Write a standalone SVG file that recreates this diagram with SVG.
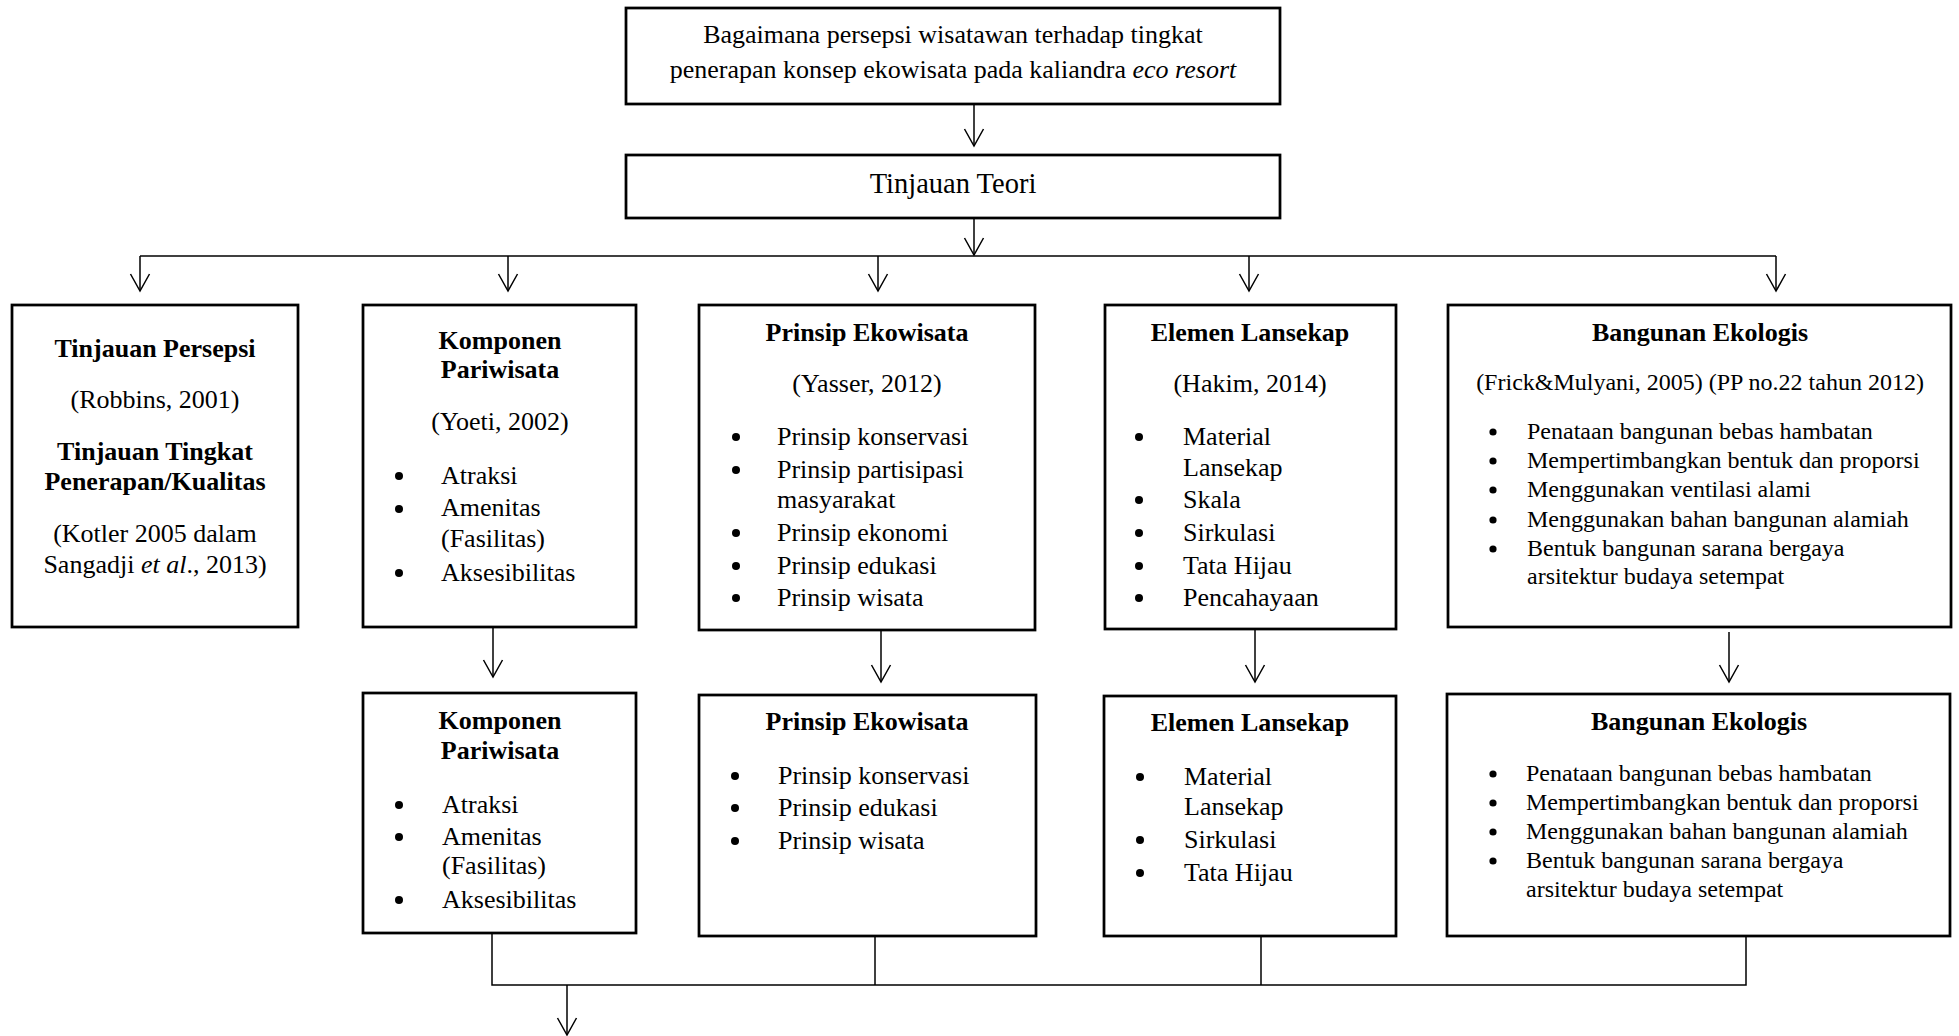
<svg xmlns="http://www.w3.org/2000/svg" width="1959" height="1036" viewBox="0 0 1959 1036">
<style>
.box{fill:#fff;stroke:#000;stroke-width:2.75}
text{font-family:"Liberation Serif","Times New Roman",serif;font-size:26px;fill:#000}
.b{font-weight:bold}
.s{font-size:24px}
.c{text-anchor:middle}
.conn{stroke:#000;stroke-width:1.5;fill:none}
.dot{fill:#000}
</style>
<defs>
<marker id="arr" markerUnits="userSpaceOnUse" markerWidth="20" markerHeight="20" refX="0" refY="0" orient="auto" overflow="visible">
<path d="M-17,-9.5 L0,0 L-17,9.5" fill="none" stroke="#000" stroke-width="1.5"/>
</marker>
</defs>
<rect width="1959" height="1036" fill="#fff"/>

<g id="connectors">
<line class="conn" x1="974" y1="104" x2="974" y2="146" marker-end="url(#arr)"/>
<line class="conn" x1="974" y1="218" x2="974" y2="255" marker-end="url(#arr)"/>
<line class="conn" x1="140" y1="256" x2="1776" y2="256"/>
<line class="conn" x1="140" y1="256" x2="140" y2="291" marker-end="url(#arr)"/>
<line class="conn" x1="508" y1="256" x2="508" y2="291" marker-end="url(#arr)"/>
<line class="conn" x1="878" y1="256" x2="878" y2="291" marker-end="url(#arr)"/>
<line class="conn" x1="1249" y1="256" x2="1249" y2="291" marker-end="url(#arr)"/>
<line class="conn" x1="1776" y1="256" x2="1776" y2="291" marker-end="url(#arr)"/>
<line class="conn" x1="493" y1="627" x2="493" y2="677" marker-end="url(#arr)"/>
<line class="conn" x1="881" y1="630" x2="881" y2="682" marker-end="url(#arr)"/>
<line class="conn" x1="1255" y1="629" x2="1255" y2="682" marker-end="url(#arr)"/>
<line class="conn" x1="1729" y1="632" x2="1729" y2="682" marker-end="url(#arr)"/>
<polyline class="conn" points="492,933 492,985 1746,985 1746,936"/>
<line class="conn" x1="875" y1="936" x2="875" y2="985"/>
<line class="conn" x1="1261" y1="936" x2="1261" y2="985"/>
<line class="conn" x1="567" y1="985" x2="567" y2="1035" marker-end="url(#arr)"/>
</g>

<g id="question">
<rect class="box" x="626" y="8" width="654" height="96"/>
<text class="c" x="953" y="43">Bagaimana persepsi wisatawan terhadap tingkat</text>
<text class="c" x="953" y="78">penerapan konsep ekowisata pada kaliandra <tspan font-style="italic">eco resort</tspan></text>
</g>

<g id="tinjauan-teori">
<rect class="box" x="626" y="155" width="654" height="63"/>
<text class="c" x="953" y="193" style="font-size:28.5px">Tinjauan Teori</text>
</g>

<g id="tinjauan-persepsi">
<rect class="box" x="12" y="305" width="286" height="322"/>
<text class="c b" x="155" y="357">Tinjauan Persepsi</text>
<text class="c" x="155" y="408">(Robbins, 2001)</text>
<text class="c b" x="155" y="460">Tinjauan Tingkat</text>
<text class="c b" x="155" y="490">Penerapan/Kualitas</text>
<text class="c" x="155" y="542">(Kotler 2005 dalam</text>
<text class="c" x="155" y="573">Sangadji <tspan font-style="italic">et al</tspan>., 2013)</text>
</g>

<g id="komponen-pariwisata">
<rect class="box" x="363" y="305" width="273" height="322"/>
<text class="c b" x="500" y="349">Komponen</text>
<text class="c b" x="500" y="378">Pariwisata</text>
<text class="c" x="500" y="430">(Yoeti, 2002)</text>
<circle class="dot" cx="399" cy="476" r="4"/>
<text x="441" y="484">Atraksi</text>
<circle class="dot" cx="399" cy="509" r="4"/>
<text x="441" y="516">Amenitas</text>
<text x="441" y="547">(Fasilitas)</text>
<circle class="dot" cx="399" cy="573" r="4"/>
<text x="441" y="581">Aksesibilitas</text>
</g>

<g id="prinsip-ekowisata">
<rect class="box" x="699" y="305" width="336" height="325"/>
<text class="c b" x="867" y="341">Prinsip Ekowisata</text>
<text class="c" x="867" y="392">(Yasser, 2012)</text>
<circle class="dot" cx="736" cy="437" r="4"/>
<text x="777" y="445">Prinsip konservasi</text>
<circle class="dot" cx="736" cy="470" r="4"/>
<text x="777" y="478">Prinsip partisipasi</text>
<text x="777" y="508">masyarakat</text>
<circle class="dot" cx="736" cy="533" r="4"/>
<text x="777" y="541">Prinsip ekonomi</text>
<circle class="dot" cx="736" cy="566" r="4"/>
<text x="777" y="574">Prinsip edukasi</text>
<circle class="dot" cx="736" cy="598" r="4"/>
<text x="777" y="606">Prinsip wisata</text>
</g>

<g id="elemen-lansekap">
<rect class="box" x="1105" y="305" width="291" height="324"/>
<text class="c b" x="1250" y="341">Elemen Lansekap</text>
<text class="c" x="1250" y="392">(Hakim, 2014)</text>
<circle class="dot" cx="1139" cy="437" r="4"/>
<text x="1183" y="445">Material</text>
<text x="1183" y="476">Lansekap</text>
<circle class="dot" cx="1139" cy="500" r="4"/>
<text x="1183" y="508">Skala</text>
<circle class="dot" cx="1139" cy="533" r="4"/>
<text x="1183" y="541">Sirkulasi</text>
<circle class="dot" cx="1139" cy="566" r="4"/>
<text x="1183" y="574">Tata Hijau</text>
<circle class="dot" cx="1139" cy="598" r="4"/>
<text x="1183" y="606">Pencahayaan</text>
</g>

<g id="bangunan-ekologis">
<rect class="box" x="1448" y="305" width="503" height="322"/>
<text class="c b" x="1700" y="341">Bangunan Ekologis</text>
<text class="c s" x="1700" y="390">(Frick&amp;Mulyani, 2005) (PP no.22 tahun 2012)</text>
<circle class="dot" cx="1493" cy="432" r="3.6"/>
<text class="s" x="1527" y="439">Penataan bangunan bebas hambatan</text>
<circle class="dot" cx="1493" cy="461" r="3.6"/>
<text class="s" x="1527" y="468">Mempertimbangkan bentuk dan proporsi</text>
<circle class="dot" cx="1493" cy="490" r="3.6"/>
<text class="s" x="1527" y="497">Menggunakan ventilasi alami</text>
<circle class="dot" cx="1493" cy="520" r="3.6"/>
<text class="s" x="1527" y="527">Menggunakan bahan bangunan alamiah</text>
<circle class="dot" cx="1493" cy="549" r="3.6"/>
<text class="s" x="1527" y="556">Bentuk bangunan sarana bergaya</text>
<text class="s" x="1527" y="584">arsitektur budaya setempat</text>
</g>

<g id="komponen-pariwisata-2">
<rect class="box" x="363" y="693" width="273" height="240"/>
<text class="c b" x="500" y="729">Komponen</text>
<text class="c b" x="500" y="759">Pariwisata</text>
<circle class="dot" cx="399" cy="805" r="4"/>
<text x="442" y="813">Atraksi</text>
<circle class="dot" cx="399" cy="837" r="4"/>
<text x="442" y="845">Amenitas</text>
<text x="442" y="874">(Fasilitas)</text>
<circle class="dot" cx="399" cy="900" r="4"/>
<text x="442" y="908">Aksesibilitas</text>
</g>

<g id="prinsip-ekowisata-2">
<rect class="box" x="699" y="695" width="337" height="241"/>
<text class="c b" x="867" y="730">Prinsip Ekowisata</text>
<circle class="dot" cx="735" cy="776" r="4"/>
<text x="778" y="784">Prinsip konservasi</text>
<circle class="dot" cx="735" cy="808" r="4"/>
<text x="778" y="816">Prinsip edukasi</text>
<circle class="dot" cx="735" cy="841" r="4"/>
<text x="778" y="849">Prinsip wisata</text>
</g>

<g id="elemen-lansekap-2">
<rect class="box" x="1104" y="696" width="292" height="240"/>
<text class="c b" x="1250" y="731">Elemen Lansekap</text>
<circle class="dot" cx="1140" cy="777" r="4"/>
<text x="1184" y="785">Material</text>
<text x="1184" y="815">Lansekap</text>
<circle class="dot" cx="1140" cy="840" r="4"/>
<text x="1184" y="848">Sirkulasi</text>
<circle class="dot" cx="1140" cy="873" r="4"/>
<text x="1184" y="881">Tata Hijau</text>
</g>

<g id="bangunan-ekologis-2">
<rect class="box" x="1447" y="694" width="503" height="242"/>
<text class="c b" x="1699" y="730">Bangunan Ekologis</text>
<circle class="dot" cx="1493" cy="774" r="3.6"/>
<text class="s" x="1526" y="781">Penataan bangunan bebas hambatan</text>
<circle class="dot" cx="1493" cy="803" r="3.6"/>
<text class="s" x="1526" y="810">Mempertimbangkan bentuk dan proporsi</text>
<circle class="dot" cx="1493" cy="832" r="3.6"/>
<text class="s" x="1526" y="839">Menggunakan bahan bangunan alamiah</text>
<circle class="dot" cx="1493" cy="861" r="3.6"/>
<text class="s" x="1526" y="868">Bentuk bangunan sarana bergaya</text>
<text class="s" x="1526" y="897">arsitektur budaya setempat</text>
</g>
</svg>
